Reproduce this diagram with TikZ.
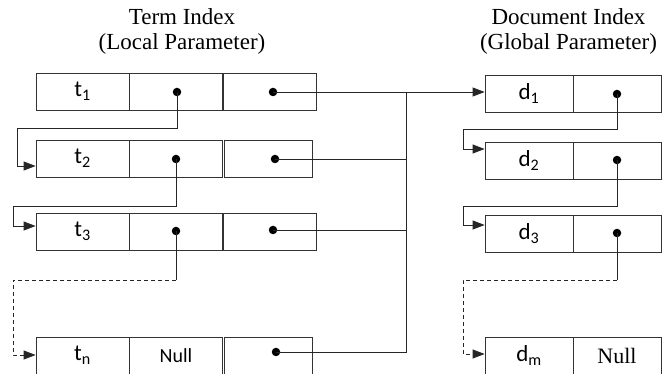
\documentclass[tikz,border=0pt]{standalone}
\usepackage{fontspec}
\setmainfont{Liberation Serif}
\newfontfamily\lblfont{Carlito}
\usetikzlibrary{arrows.meta,calc}
\begin{document}
\begin{tikzpicture}[x=1pt,y=-1pt,
  cell/.style={draw=black!80, line width=0.8pt, minimum height=37pt, inner sep=0pt,
    font=\lblfont\fontsize{23}{23}\selectfont},
  wcell/.style={cell, minimum width=93pt},
  ncell/.style={cell, minimum width=88pt},
  sansnull/.style={font=\lblfont\fontsize{20}{20}\selectfont},
  serifnull/.style={font=\fontsize{22}{22}\selectfont},
  dot/.style={circle, fill=black, inner sep=0pt, minimum size=8.5pt},
  link/.style={line width=0.8pt, draw=black!85},
  tip/.style={-{Triangle[length=12pt,width=9pt]}},
  dsh/.style={dash pattern=on 4pt off 3pt},
  title/.style={align=center, inner sep=0pt, font=\fontsize{23}{25}\selectfont}]
\useasboundingbox (0,0) rectangle (662,374);

% titles
\node[title] (termtitle) at (182,31) {Term Index\\(Local Parameter)};
\node[title] (doctitle) at (568.5,31) {Document Index\\(Global Parameter)};

% term index rows
\node[wcell] (t1a) at (82.5,91.5) {t\textsubscript{1}};
\node[wcell] (t1b) at (176,91.5) {};
\node[wcell] (t1c) at (270,91.5) {};
\node[wcell] (t2a) at (82.5,158.5) {t\textsubscript{2}};
\node[wcell] (t2b) at (176,158.5) {};
\node[ncell] (t2c) at (268,158.5) {};
\node[wcell] (t3a) at (82.5,231.5) {t\textsubscript{3}};
\node[wcell] (t3b) at (176,231.5) {};
\node[wcell] (t3c) at (270,231.5) {};
\node[wcell] (tna) at (82.5,355.5) {t\textsubscript{n}};
\node[wcell, sansnull] (tnb) at (176,355.5) {Null};
\node[ncell] (tnc) at (268,355.5) {};

% document index rows
\node[ncell] (d1a) at (529,93.5) {d\textsubscript{1}};
\node[ncell] (d1b) at (617,93.5) {};
\node[ncell] (d2a) at (529,160.5) {d\textsubscript{2}};
\node[ncell] (d2b) at (617,160.5) {};
\node[ncell] (d3a) at (529,233.5) {d\textsubscript{3}};
\node[ncell] (d3b) at (617,233.5) {};
\node[ncell] (dma) at (529,355.5) {d\textsubscript{m}};
\node[ncell, serifnull] (dmb) at (617,355.5) {Null};

% dots
\node[dot] (t1bd) at (177,92) {};
\node[dot] (t1cd) at (273,92) {};
\node[dot] (t2bd) at (176,159) {};
\node[dot] (t2cd) at (275,159) {};
\node[dot] (t3bd) at (176,231) {};
\node[dot] (t3cd) at (273,230) {};
\node[dot] (tncd) at (276,352) {};
\node[dot] (d1bd) at (617,94) {};
\node[dot] (d2bd) at (617,160) {};
\node[dot] (d3bd) at (617,233) {};

% term chain
\draw[link,tip] (t1bd.center) -- (t1bd.center |- 0,128) -- (17,128) -- (17,166) -- (t2a.west |- 0,166);
\draw[link,tip] (t2bd.center) -- (t2bd.center |- 0,206) -- (13,206) -- (13,226) -- (t3a.west |- 0,226);
\draw[link] (t3bd.center) -- (t3bd.center |- 0,280) coordinate (t3corner);
\draw[link,dsh,tip] (t3corner) -- (13,280) -- (13,355) -- (tna.west |- 0,355);

% bus to document index
\coordinate (bustop) at (406,92);
\draw[link,tip] (t1cd.center) -- (d1a.west |- t1cd.center);
\draw[link] (t2cd.center) -- (t2cd.center -| bustop);
\draw[link] (t3cd.center) -- (t3cd.center -| bustop);
\draw[link] (tncd.center) -- (tncd.center -| bustop) -- (bustop);

% document chain
\draw[link,tip] (d1bd.center) -- (d1bd.center |- 0,129) -- (463,129) -- (463,149) -- (d2a.west |- 0,149);
\draw[link,tip] (d2bd.center) -- (d2bd.center |- 0,206) -- (463,206) -- (463,225) -- (d3a.west |- 0,225);
\draw[link] (d3bd.center) -- (d3bd.center |- 0,280) coordinate (d3corner);
\draw[link,dsh,tip] (d3corner) -- (463,280) -- (463,354) -- (dma.west |- 0,354);
\end{tikzpicture}
\end{document}
